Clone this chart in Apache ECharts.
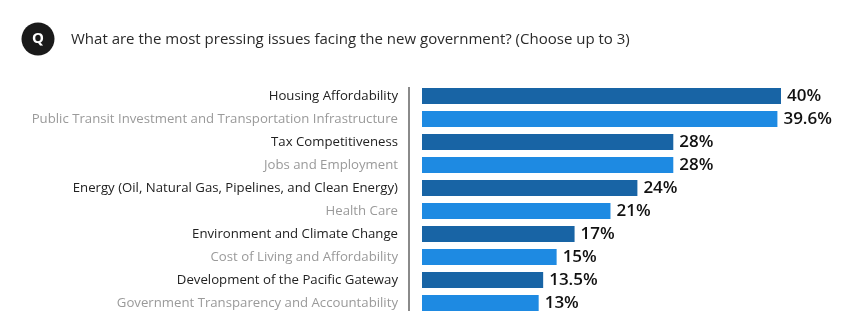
<!DOCTYPE html>
<html>
<head>
<meta charset="utf-8">
<script src="https://cdn.jsdelivr.net/npm/echarts@6/dist/echarts.min.js"></script>
<style>
  html, body { margin: 0; padding: 0; background: #fff; }
  #chart { width: 847px; height: 334px; }
</style>
</head>
<body>
<div id="chart"></div>
<script>
// Survey question and answers
const question = 'What are the most pressing issues facing the new government? (Choose up to 3)';

const issues = [
  'Housing Affordability',
  'Public Transit Investment and Transportation Infrastructure',
  'Tax Competitiveness',
  'Jobs and Employment',
  'Energy (Oil, Natural Gas, Pipelines, and Clean Energy)',
  'Health Care',
  'Environment and Climate Change',
  'Cost of Living and Affordability',
  'Development of the Pacific Gateway',
  'Government Transparency and Accountability'
];

const shares = [40, 39.6, 28, 28, 24, 21, 17, 15, 13.5, 13];

// Alternating row colours
const barColors = ['#1864a5', '#1e8ae2'];
const labelColors = ['#222222', '#9a9a9a'];

const chart = echarts.init(document.getElementById('chart'), null, { renderer: 'canvas' });

chart.setOption({
  animation: false,
  backgroundColor: '#ffffff',
  graphic: [
    {
      type: 'circle',
      shape: { cx: 38, cy: 39, r: 16.5 },
      style: { fill: '#1a1a1a' }
    },
    {
      type: 'text',
      x: 38, y: 39,
      style: {
        text: 'Q',
        fill: '#ffffff',
        font: 'bold 15px "Open Sans", sans-serif',
        align: 'center',
        verticalAlign: 'middle'
      }
    },
    {
      type: 'text',
      x: 71, y: 40,
      style: {
        text: question,
        fill: '#2a2a2a',
        font: '15px "Open Sans", sans-serif',
        verticalAlign: 'middle'
      }
    },
    // divider between the labels and the bars
    {
      type: 'line',
      shape: { x1: 409, y1: 87, x2: 409, y2: 311 },
      style: { stroke: '#8a8a8a', lineWidth: 2 }
    }
  ],
  grid: { left: 422, right: 66, top: 84.5, bottom: 19.5 },
  xAxis: {
    type: 'value',
    min: 0,
    max: 40,
    show: false
  },
  yAxis: {
    type: 'category',
    inverse: true,
    data: issues,
    axisLine: { show: false },
    axisTick: { show: false },
    axisLabel: {
      margin: 24,
      fontSize: 13.2,
      fontFamily: '"Open Sans", sans-serif',
      color: (value, index) => labelColors[index % 2]
    }
  },
  series: [{
    type: 'bar',
    data: shares.map((v, i) => ({ value: v, itemStyle: { color: barColors[i % 2] } })),
    barWidth: 16,
    label: {
      show: true,
      position: 'right',
      distance: 6,
      formatter: p => p.value + '%',
      fontSize: 17,
      fontWeight: 600,
      fontFamily: '"Open Sans", sans-serif',
      color: '#111111'
    }
  }]
});
</script>
</body>
</html>
